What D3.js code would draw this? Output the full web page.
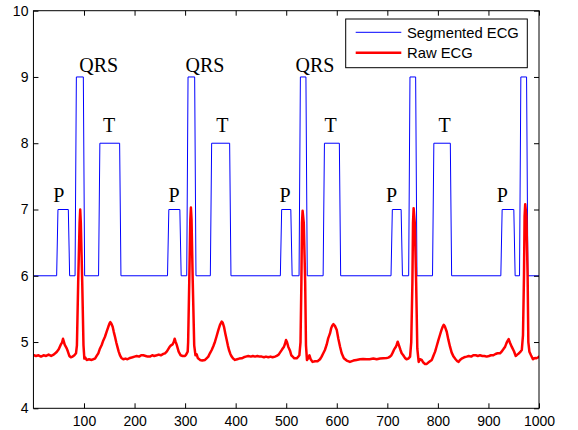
<!DOCTYPE html>
<html>
<head>
<meta charset="utf-8">
<script src="https://cdn.jsdelivr.net/npm/d3@7"></script>
<style>
  html, body { margin: 0; padding: 0; background: #fff; }
  svg { display: block; }
</style>
</head>
<body>
<svg id="chart" width="578" height="430"></svg>
<script>
// ---------------- DATA ----------------
const xTicks = [100, 200, 300, 400, 500, 600, 700, 800, 900, 1000];
const yTicks = [4, 5, 6, 7, 8, 9, 10];

// Segmented ECG: wave segments (start/end sample) and their levels
const segLabels = ['P','QRS','T','P','QRS','T','P','QRS','T','P','QRS','T','P','QRS'];
const segStart  = [47.2, 83.6, 130.1, 266.5, 304.5, 351.2, 489.7, 526.7, 574.3, 708.6, 743.5, 790.7, 925.8, 962.8];
const segEnd    = [70.3, 100.0, 171.8, 290.9, 320.2, 389.4, 510.4, 540.3, 606.4, 728.6, 757.3, 825.9, 951.5, 976.7];
const levelP = 7, levelQRS = 9, levelT = 8, levelBase = 6;

// Raw ECG samples (sample index, value)
const rawX = [1,5,10,15,20,25,30,35,40,46,50,54,56.5,58.5,60,61.8,65.8,68,71,74,77.6,81,84.2,
  86,88.5,91.3,92.5,93.7,96.5,99,100.7,102,105.3,110,115.2,118,121.8,125,128.3,131,135,138,141.5,145,148.1,150.5,152.1,154,156.7,159,161.3,164,166,168.5,171.2,174,177.8,182,186,191,196,200,204.2,209,213,217.3,222,226,230.5,235,239,243.8,248,252,256.9,260.2,264,268.8,272,275.4,277.5,279.3,281,283.3,287.2,291.2,295,299.8,302,305.1,
  306,308.3,310.3,311.5,312.7,315,318,320.5,322.9,325,329.5,334,339.3,342,345.9,349,352.6,356,359.1,362,365.7,369,372.4,374.5,376.9,379.5,382.3,384.5,386.8,389.5,392.1,395,398.7,403,407,411.9,416,420,425,430,434,438.3,443,447,451.5,456,460,464.6,469,473,477.8,481,485,489,492,495.6,497.5,499.6,501.5,504,507.5,510,512.8,516,520.7,524,
  526,528.3,530,531.2,532.4,534.7,537.5,539.1,541,543.7,546,548.4,552,556.9,562,566.8,570,573.3,576.5,580,583,586.6,589,591.2,593.5,596.5,600,603.1,606.5,609.7,614,619.6,626,632.8,639,645.9,652,659.2,665,672.3,679,685.5,692,698.7,702,705.3,708,710.6,713,715.2,717,718.5,720.5,723,726,728.4,731.5,734.9,738,741.5,
  745,747.3,749.6,750.8,752,754.3,757,759.3,762,764.6,768,771.2,774.5,778,781,784.4,788,791,794.5,797.7,801,804.2,807,809.5,811.5,814.1,817.5,820.6,824,827.3,831,835,838.4,841,843.7,848,852,856.9,861,866,870,875,879,883.3,888,892,896.5,901,905,909.7,914,918,922.9,926,929.4,933,935.5,937.3,940,942.6,946,950.5,954,957.1,960.5,963.9,
  966,968.3,970.3,971.5,972.7,975,977.5,978.9,981,984.2,988,992.1,995,998.6,1000];
const rawY = [4.80,4.79,4.80,4.78,4.80,4.79,4.81,4.79,4.81,4.85,4.89,4.96,4.99,5.05,5.01,4.96,4.905,4.86,4.79,4.77,4.78,4.80,4.83,
  4.95,5.9,6.8,7.0,6.8,5.9,4.95,4.75,4.77,4.73,4.74,4.73,4.74,4.75,4.79,4.83,4.89,4.955,5.02,5.08,5.16,5.23,5.28,5.30,5.28,5.23,5.15,5.08,4.99,4.93,4.86,4.80,4.76,4.74,4.75,4.74,4.76,4.77,4.78,4.79,4.78,4.80,4.80,4.79,4.78,4.78,4.80,4.79,4.80,4.81,4.80,4.82,4.83,4.86,4.92,4.95,4.965,5.0,5.05,5.01,4.96,4.855,4.80,4.79,4.79,4.81,4.855,
  5.0,5.95,6.85,7.03,6.85,5.95,4.95,4.80,4.815,4.76,4.73,4.72,4.73,4.75,4.78,4.83,4.88,4.94,5.005,5.08,5.18,5.26,5.31,5.29,5.23,5.13,5.03,4.95,4.88,4.82,4.78,4.75,4.73,4.74,4.75,4.755,4.77,4.78,4.79,4.78,4.79,4.78,4.79,4.78,4.78,4.77,4.78,4.77,4.78,4.77,4.78,4.79,4.81,4.855,4.89,4.93,4.97,5.03,5.0,4.93,4.87,4.80,4.78,4.755,4.755,4.78,4.80,
  5.0,5.9,6.8,6.98,6.8,5.9,4.95,4.73,4.76,4.80,4.74,4.70,4.71,4.71,4.74,4.78,4.83,4.88,4.96,5.055,5.13,5.21,5.25,5.27,5.24,5.18,5.05,4.93,4.83,4.755,4.72,4.70,4.72,4.73,4.74,4.745,4.74,4.74,4.75,4.74,4.75,4.755,4.76,4.765,4.78,4.80,4.84,4.88,4.91,4.93,4.96,5.005,4.95,4.88,4.83,4.80,4.76,4.74,4.75,4.78,
  5.0,5.9,6.8,7.02,6.8,5.9,4.9,4.70,4.74,4.73,4.69,4.67,4.67,4.69,4.71,4.73,4.79,4.855,4.94,5.03,5.11,5.18,5.23,5.26,5.23,5.155,5.04,4.93,4.84,4.78,4.74,4.71,4.70,4.73,4.755,4.77,4.78,4.79,4.78,4.80,4.80,4.79,4.80,4.79,4.79,4.78,4.79,4.80,4.80,4.82,4.83,4.83,4.855,4.89,4.93,4.98,5.01,5.045,4.99,4.93,4.86,4.79,4.81,4.83,4.86,4.88,
  5.1,6.0,6.9,7.08,6.9,6.0,5.0,4.855,4.80,4.74,4.76,4.755,4.77,4.78,4.78];

// Annotations
const annText = ['P','QRS','T','P','QRS','T','P','QRS','T','P','T','P'];
const annX = [50, 129.1, 149.5, 278, 339.3, 373.6, 497.6, 556.9, 588, 708.6, 813.5, 927.4];
const annY = [7.12, 9.08, 8.17, 7.12, 9.08, 8.17, 7.12, 9.08, 8.17, 7.12, 8.17, 7.12];

const legendLabels = ['Segmented ECG', 'Raw ECG'];

// ---------------- CHART ----------------
const svg = d3.select('#chart');
const L = 33.44, R = 539, T = 10.7, B = 408.3;
const x = d3.scaleLinear().domain([0, 1000]).range([L, R]);
const y = d3.scaleLinear().domain([4, 10]).range([B, T]);

svg.append('rect').attr('width', 578).attr('height', 430).attr('fill', '#fff');

svg.append('defs').append('clipPath').attr('id', 'clip')
  .append('rect').attr('x', L).attr('y', T).attr('width', R - L).attr('height', B - T);

// Segmented line points
const levelOf = { P: levelP, QRS: levelQRS, T: levelT };
const edge = 1.3;
const segPts = [[1, levelBase]];
segLabels.forEach((lab, i) => {
  const lv = levelOf[lab];
  segPts.push([segStart[i] - edge, levelBase], [segStart[i] + edge, lv],
              [segEnd[i] - edge, lv], [segEnd[i] + edge, levelBase]);
});
segPts.push([1000, levelBase]);

const rawPts = rawX.map((d, i) => [d, rawY[i]]);

const line = d3.line().x(d => x(d[0])).y(d => y(d[1]));

const plot = svg.append('g').attr('clip-path', 'url(#clip)');
plot.append('path').datum(segPts).attr('d', line)
  .attr('fill', 'none').attr('stroke', '#0000ff').attr('stroke-width', 1);
plot.append('path').datum(rawPts).attr('d', line)
  .attr('fill', 'none').attr('stroke', '#ff0000').attr('stroke-width', 2.5)
  .attr('stroke-linejoin', 'round').attr('stroke-linecap', 'round');

// Annotations
svg.append('g').selectAll('text').data(annText).join('text')
  .attr('x', (d, i) => x(annX[i]))
  .attr('y', (d, i) => y(annY[i]))
  .attr('text-anchor', 'middle')
  .attr('font-family', "'Liberation Serif', 'Times New Roman', serif")
  .attr('font-size', 20)
  .attr('fill', '#000')
  .text(d => d);

// Axes
const font = "'Liberation Sans', Arial, Helvetica, sans-serif";
const gx = svg.append('g').attr('transform', `translate(0,${B})`)
  .call(d3.axisBottom(x).tickValues(xTicks).tickSizeInner(-5).tickSizeOuter(0).tickPadding(8).tickFormat(d3.format('d')));
const gy = svg.append('g').attr('transform', `translate(${L},0)`)
  .call(d3.axisLeft(y).tickValues(yTicks).tickSizeInner(-5).tickSizeOuter(0).tickPadding(5).tickFormat(d3.format('d')));
const gxt = svg.append('g').attr('transform', `translate(0,${T})`)
  .call(d3.axisTop(x).tickValues(xTicks).tickSizeInner(-5).tickSizeOuter(0).tickFormat(''));
const gyr = svg.append('g').attr('transform', `translate(${R},0)`)
  .call(d3.axisRight(y).tickValues(yTicks).tickSizeInner(-5).tickSizeOuter(0).tickFormat(''));
[gx, gy, gxt, gyr].forEach(g => {
  g.select('.domain').remove();
  g.selectAll('line').attr('stroke', '#000');
  g.selectAll('text').attr('font-family', font).attr('font-size', 14).attr('fill', '#000');
});
svg.append('rect').attr('x', L).attr('y', T).attr('width', R - L).attr('height', B - T)
  .attr('fill', 'none').attr('stroke', '#000').attr('stroke-width', 1);

// Legend
const lg = svg.append('g');
lg.append('rect').attr('x', 345.7).attr('y', 19).attr('width', 181.6).attr('height', 48.7)
  .attr('fill', '#fff').attr('stroke', '#000').attr('stroke-width', 1);
const legColors = ['#0000ff', '#ff0000'];
const legWidths = [1, 2.5];
const legY = [32.3, 52.7];
legendLabels.forEach((lab, i) => {
  lg.append('line').attr('x1', 355.7).attr('x2', 401.3).attr('y1', legY[i]).attr('y2', legY[i])
    .attr('stroke', legColors[i]).attr('stroke-width', legWidths[i]);
  lg.append('text').attr('x', 407).attr('y', legY[i] + 5.3)
    .attr('font-family', font).attr('font-size', 14.8).attr('fill', '#000').text(lab);
});
</script>
</body>
</html>
